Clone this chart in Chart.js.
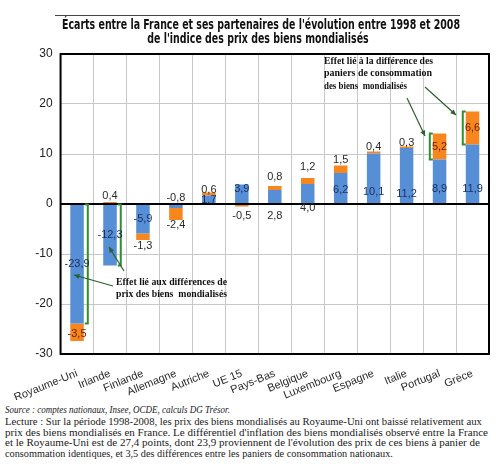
<!DOCTYPE html>
<html>
<head>
<meta charset="utf-8">
<script src="https://cdn.jsdelivr.net/npm/chart.js@4.4.1/dist/chart.umd.min.js"></script>
<style>
html, body { margin: 0; padding: 0; background: #fff; width: 500px; height: 468px; overflow: hidden; }
#wrap { position: relative; width: 500px; height: 400px; }
#notes { position: absolute; left: 5px; top: 404px; font-family: "Liberation Serif", "Times New Roman", serif; color: #1a1a1a; font-size: 11px; line-height: 10.7px; }
#notes div { white-space: nowrap; transform-origin: 0 0; width: max-content; }
#notes .src { font-style: italic; font-size: 10px; line-height: 12px; }
</style>
</head>
<body>
<div id="wrap"><canvas id="c" width="500" height="400"></canvas></div>
<div id="notes">
  <div class="src" data-w="225">Source : comptes nationaux, Insee, OCDE, calculs DG Trésor.</div>
  <div data-w="477">Lecture : Sur la période 1998-2008, les prix des biens mondialisés au Royaume-Uni ont baissé relativement aux</div>
  <div data-w="483">prix des biens mondialisés en France. Le différentiel d'inflation des biens mondialisés observé entre la France</div>
  <div data-w="475">et le Royaume-Uni est de 27,4 points, dont 23,9 proviennent de l'évolution des prix de ces biens à panier de</div>
  <div data-w="388">consommation identiques, et 3,5 des différences entre les paniers de consommation nationaux.</div>
</div>
<script>
// données (écarts en points)
const countries = ["Royaume-Uni", "Irlande", "Finlande", "Allemagne", "Autriche", "UE 15", "Pays-Bas",
                   "Belgique", "Luxembourg", "Espagne", "Italie", "Portugal", "Grèce"];
const effetPrix = [-23.9, -12.3, -5.9, -0.8, 1.7, 3.9, 2.8, 4.0, 6.2, 10.1, 11.2, 8.9, 11.9];
const effetPaniers = [-3.5, 0.4, -1.3, -2.4, 0.6, -0.5, 0.8, 1.2, 1.5, 0.4, 0.3, 5.2, 6.6];
const yMin = -30, yMax = 30, yStep = 10;

const BLUE = "#568fd6", ORANGE = "#f7861f";
const NAVY = "#1c2d5c", GREY = "#2a2a2a", BROWN = "#6a1e00";
const GREEN = "#2f8f2f", DKGREEN = "#2d5e2d";

// où poser chaque étiquette : [ancre, décalage px, couleur]
const bluePlace = [
  ["mid", 0, NAVY], ["mid", 0, NAVY], ["mid", 0, NAVY], ["base", -7, GREY], ["mid", 0, NAVY],
  ["end", 4, NAVY], ["base", 12, GREY], ["base", 4, GREY], ["base", -14, NAVY], ["base", -12, NAVY],
  ["base", -10, NAVY], ["base", -15, NAVY], ["base", -15, NAVY]
];
const orangePlace = [
  ["mid", 2, BROWN], ["end", -6, GREY], ["end", 6, GREY], ["end", 5, GREY], ["end", -3, GREY],
  ["end", 9, GREY], ["end", -9, GREY], ["end", -11, GREY], ["end", -6, GREY], ["end", -5, GREY],
  ["end", -4, GREY], ["mid", 0, BROWN], ["mid", 0, BROWN]
];

const fmt = v => v.toFixed(1).replace(".", ",");
const SANS = '"Liberation Sans", Arial, sans-serif';

function arrow(ctx, x1, y1, x2, y2){
  const a = Math.atan2(y2 - y1, x2 - x1), h = 6;
  ctx.beginPath(); ctx.moveTo(x1, y1); ctx.lineTo(x2, y2); ctx.stroke();
  ctx.beginPath();
  ctx.moveTo(x2, y2);
  ctx.lineTo(x2 - h * Math.cos(a - 0.45), y2 - h * Math.sin(a - 0.45));
  ctx.lineTo(x2 - h * Math.cos(a + 0.45), y2 - h * Math.sin(a + 0.45));
  ctx.closePath(); ctx.fill();
}
function bracket(ctx, x, y1, y2, dir){
  ctx.beginPath();
  ctx.moveTo(x + dir * 3, y1); ctx.lineTo(x, y1); ctx.lineTo(x, y2); ctx.lineTo(x + dir * 3, y2);
  ctx.stroke();
}

const frame = {
  id: "cadre",
  afterDatasetsDraw(chart){
    const {ctx, chartArea: a, scales} = chart;
    ctx.save();
    ctx.strokeStyle = "#000"; ctx.lineWidth = 2;
    ctx.strokeRect(a.left, a.top, a.right - a.left, a.bottom - a.top);
    const y0 = Math.round(scales.y.getPixelForValue(0));
    ctx.beginPath(); ctx.moveTo(a.left, y0); ctx.lineTo(a.right, y0); ctx.stroke();
    ctx.restore();
  }
};

const valeurs = {
  id: "valeurs",
  afterDatasetsDraw(chart){
    const ctx = chart.ctx;
    ctx.save();
    ctx.font = "11px " + SANS;
    ctx.textAlign = "center"; ctx.textBaseline = "middle";
    [[0, bluePlace], [1, orangePlace]].forEach(([di, place]) => {
      const vals = chart.data.datasets[di].data;
      chart.getDatasetMeta(di).data.forEach((el, i) => {
        const [at, dy, col] = place[i];
        const p = el.getProps(["x", "y", "base"], true);
        const ly = at === "mid" ? (p.y + p.base) / 2 : at === "end" ? p.y : p.base;
        ctx.fillStyle = col;
        ctx.fillText(fmt(vals[i]), p.x, ly + dy);
      });
    });
    ctx.restore();
  }
};

const notes = {
  id: "annotations",
  afterDatasetsDraw(chart){
    const ctx = chart.ctx;
    const blue = chart.getDatasetMeta(0).data, orange = chart.getDatasetMeta(1).data;
    ctx.save();
    ctx.strokeStyle = GREEN; ctx.lineWidth = 2;
    [0, 1].forEach(i => {
      const p = blue[i].getProps(["x", "y", "base", "width"], true);
      bracket(ctx, p.x + p.width / 2 + 4, p.base, p.y, -1);
    });
    [11, 12].forEach(i => {
      const p = orange[i].getProps(["x", "y", "base", "width"], true);
      bracket(ctx, p.x - p.width / 2 - 3, p.base, p.y, 1);
    });
    ctx.strokeStyle = DKGREEN; ctx.fillStyle = DKGREEN; ctx.lineWidth = 1.2;
    arrow(ctx, 113, 286, 74, 275);
    arrow(ctx, 124, 271, 109, 247);
    arrow(ctx, 407, 98, 425, 136);
    arrow(ctx, 425, 87, 456, 115);
    ctx.fillStyle = "#111";
    ctx.font = 'bold 11px "Liberation Serif", "Times New Roman", serif';
    ctx.textAlign = "left"; ctx.textBaseline = "middle";
    ctx.fillText("Effet lié aux différences de", 116, 282, 111);
    ctx.fillText("prix des biens  mondialisés", 116, 294, 111);
    ctx.fillText("Effet lié à la différence des", 324, 61, 109);
    ctx.fillText("paniers de consommation", 324, 73, 108);
    ctx.fillText("des biens  mondialisés", 324, 86, 83);
    ctx.restore();
  }
};

const titre = {
  id: "titre",
  afterDraw(chart){
    const ctx = chart.ctx;
    ctx.save();
    ctx.strokeStyle = "#444"; ctx.lineWidth = 1;
    ctx.beginPath(); ctx.moveTo(55, 15.5); ctx.lineTo(460, 15.5); ctx.stroke();
    ctx.fillStyle = "#111";
    ctx.font = 'bold 14px "Liberation Sans Narrow", "DejaVu Sans Condensed", Arial, sans-serif';
    ctx.textAlign = "center"; ctx.textBaseline = "middle";
    const l1 = "Écarts entre la France et ses partenaires de l'évolution entre 1998 et 2008";
    const l2 = "de l'indice des prix des biens mondialisés";
    const w1 = ctx.measureText(l1).width, k = Math.min(1, 398 / w1);
    ctx.fillText(l1, 261, 25, 398);
    ctx.fillText(l2, 258, 39, ctx.measureText(l2).width * k);
    ctx.restore();
  }
};

new Chart(document.getElementById("c"), {
  type: "bar",
  data: {
    labels: countries,
    datasets: [
      { label: "Effet prix", data: effetPrix, backgroundColor: BLUE, categoryPercentage: 1, barPercentage: 0.41 },
      { label: "Effet paniers", data: effetPaniers, backgroundColor: ORANGE, categoryPercentage: 1, barPercentage: 0.41 }
    ]
  },
  options: {
    responsive: false,
    animation: false,
    layout: { padding: { top: 54, right: 11, left: 0, bottom: 0 } },
    plugins: { legend: { display: false }, tooltip: { enabled: false } },
    scales: {
      x: {
        stacked: true,
        afterFit: s => { s.height = 46; },
        border: { display: false },
        grid: { color: "#c8c8c8", drawTicks: false, offset: true },
        ticks: { autoSkip: false, maxRotation: 22, minRotation: 22, padding: 13, color: "#2a2a2a", font: { family: SANS, size: 11 } }
      },
      y: {
        stacked: true,
        min: yMin, max: yMax,
        afterFit: s => { s.width = 44; },
        border: { display: false },
        grid: { color: "#c8c8c8", drawTicks: false },
        ticks: { stepSize: yStep, padding: 8, color: "#222", font: { family: SANS, size: 12 } }
      }
    }
  },
  plugins: [frame, notes, valeurs, titre]
});

// ajuste chaque ligne de la note à sa largeur d'origine
document.querySelectorAll("#notes div").forEach(d => {
  const w = d.getBoundingClientRect().width, target = +d.dataset.w;
  if (w > 0) d.style.transform = "scaleX(" + (target / w).toFixed(3) + ")";
});
</script>
</body>
</html>
